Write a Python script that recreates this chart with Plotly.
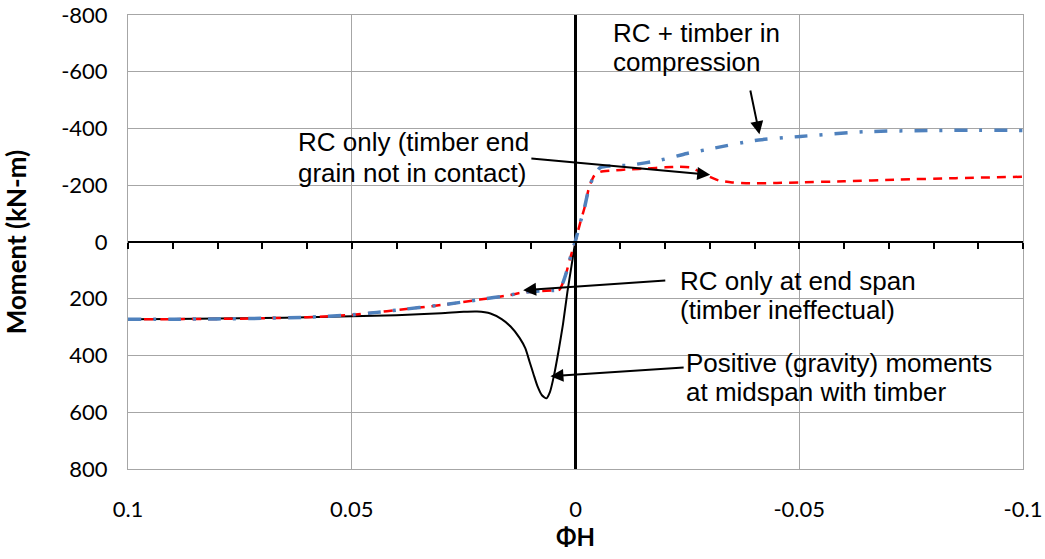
import plotly.graph_objects as go

# ---- data ----
# shared path of the RC-only and RC+timber curves (left branch, up to the knee)
shared_phi = [0.1, 0.09, 0.08, 0.07, 0.06, 0.05, 0.0444, 0.04, 0.03, 0.0214, 0.015, 0.0118,
              0.008, 0.005, 0.0036, 0.0028, 0.002, 0.0013, 0.0005, 0.0, -0.001, -0.002,
              -0.0031, -0.0042]
shared_m = [272, 272, 271, 269, 265, 257, 248, 240, 222, 203, 188, 178,
            173, 171, 168, 143, 105, 63, 20, -5, -65, -120,
            -196, -234]

# RC only (timber end grain not in contact) - continuation
red_phi = [-0.0055, -0.0083, -0.012, -0.016, -0.02, -0.0232, -0.026, -0.0277, -0.03, -0.032,
           -0.035, -0.039, -0.045, -0.05, -0.06, -0.0723, -0.085, -0.1]
red_m = [-247, -252, -256, -259, -263, -265, -262, -248, -230, -217,
         -210, -207, -208, -210, -214, -220, -225, -230]

# RC + timber in compression - continuation
blue_phi = [-0.0055, -0.008, -0.0122, -0.0188, -0.0249, -0.0307, -0.0401, -0.0502, -0.0652,
            -0.08, -0.09, -0.1]
blue_m = [-262, -268, -271, -288, -312, -330, -358, -372, -389, -393, -394, -393]

# Positive (gravity) moments at midspan with timber
black_phi = [0.1, 0.09, 0.08, 0.07, 0.06, 0.05, 0.04, 0.03, 0.025, 0.022, 0.019, 0.0165,
             0.0145, 0.0125, 0.0112, 0.0103, 0.0094, 0.0085, 0.0075, 0.0065, 0.0057, 0.0048,
             0.0038, 0.0028, 0.0018, 0.0009, 0.0002, -0.0003]
black_m = [272, 271, 270, 268, 265, 262, 258, 251, 246, 245, 252, 272,
           298, 338, 375, 420, 465, 508, 540, 551, 528, 470,
           385, 290, 175, 85, 15, -20]

x_tickvals = [0.1, 0.05, 0, -0.05, -0.1]
x_ticktext = ["0.1", "0.05", "0", "-0.05", "-0.1"]
y_tickvals = [-800, -600, -400, -200, 0, 200, 400, 600, 800]
y_ticktext = ["-800", "-600", "-400", "-200", "0", "200", "400", "600", "800"]

# annotation texts: (lines, left x, line y values)
labels = [
    (["RC + timber in", "compression"], -0.0080, [-735, -636]),
    (["RC only (timber end", "grain not in contact)"], 0.0625, [-352, -244]),
    (["RC only at end span", "(timber ineffectual)"], -0.0230, [136, 241]),
    (["Positive (gravity) moments", "at midspan with timber"], -0.0243, [425, 530]),
]
# arrows: head (x, y), tail (ax, ay)
arrows = [
    (-0.0411, -380, -0.0390, -539),
    (-0.0301, -237, 0.0102, -295),
    (0.0117, 170, -0.0204, 135),
    (0.0056, 473, -0.0245, 442),
]

fig = go.Figure()
fig.add_trace(go.Scatter(x=black_phi, y=black_m, mode="lines",
                         line=dict(color="black", width=2, shape="spline", smoothing=0.6)))
fig.add_trace(go.Scatter(x=shared_phi + red_phi, y=shared_m + red_m, mode="lines",
                         line=dict(color="#FF0000", width=2.5, dash="9px,7px",
                                   shape="spline", smoothing=0.6)))
fig.add_trace(go.Scatter(x=shared_phi + blue_phi, y=shared_m + blue_m, mode="lines",
                         line=dict(color="#4F81BD", width=3.5, dash="13px,12px,3px,12px",
                                   shape="spline", smoothing=0.6)))
# invisible trace for the tick axis on the zero line
fig.add_trace(go.Scatter(x=[0.1, -0.1], y=[0, 0], xaxis="x2", mode="lines",
                         line=dict(width=0), hoverinfo="skip"))

tick_font = dict(family="Lato", size=22, color="black")
ann_font = dict(family="Liberation Sans", size=26, color="black")

annotations = []
for lines, lx, ys in labels:
    for t, yy in zip(lines, ys):
        annotations.append(dict(x=lx, y=yy, xref="x", yref="y", text=t, showarrow=False,
                                xanchor="left", yanchor="middle", font=ann_font))
for hx, hy, tx, ty in arrows:
    annotations.append(dict(x=hx, y=hy, ax=tx, ay=ty, xref="x", yref="y",
                            axref="x", ayref="y", text="", showarrow=True,
                            arrowhead=2, arrowsize=1.3, arrowwidth=2, arrowcolor="black"))

fig.update_layout(
    width=1045, height=559,
    margin=dict(l=128, r=22, t=15, b=90, autoexpand=False),
    paper_bgcolor="white", plot_bgcolor="white",
    showlegend=False,
    annotations=annotations,
    xaxis=dict(range=[0.1, -0.1], tickvals=x_tickvals, ticktext=x_ticktext,
               tickfont=tick_font, showgrid=True, gridcolor="#A6A6A6", gridwidth=1,
               zeroline=True, zerolinecolor="black", zerolinewidth=2.5,
               showline=True, linecolor="#A6A6A6", linewidth=1, mirror=True,
               ticks="", ticklabelstandoff=21, automargin=False,
               ticklabeloverflow="allow",
               title=dict(text="<b>ΦH</b>", font=dict(family="Lato", size=24, color="black"),
                          standoff=2)),
    xaxis2=dict(range=[0.1, -0.1], overlaying="x", anchor="free", position=0.5,
                showgrid=False, zeroline=False, showticklabels=False,
                showline=True, linecolor="black", linewidth=2,
                ticks="outside", ticklen=6, tickwidth=2, tickcolor="black",
                tick0=0, dtick=0.01),
    yaxis=dict(range=[800, -800], tickvals=y_tickvals, ticktext=y_ticktext,
               tickfont=tick_font, showgrid=True, gridcolor="#A6A6A6", gridwidth=1,
               zeroline=True, zerolinecolor="black", zerolinewidth=2,
               showline=True, linecolor="#A6A6A6", linewidth=1, mirror=True,
               ticks="", ticklabelstandoff=15, automargin=False,
               ticklabeloverflow="allow",
               title=dict(text="<b>Moment (kN-m)</b>",
                          font=dict(family="Lato", size=26, color="black"), standoff=28)),
)

fig.write_html("out.html")
